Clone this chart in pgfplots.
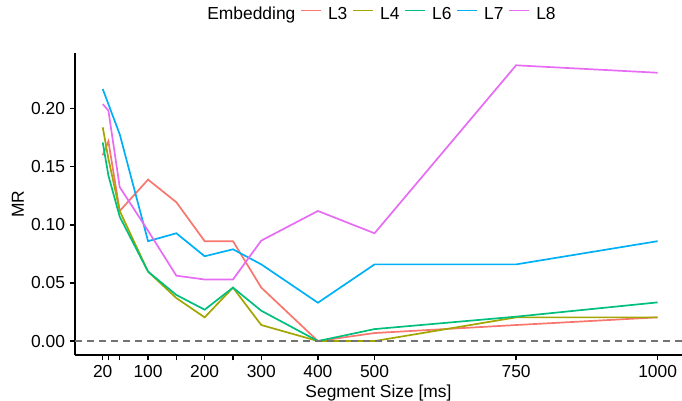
\documentclass[border=0pt]{standalone}
\usepackage{pgfplots}
\pgfplotsset{compat=1.18}
\usepackage{fontspec}
\setmainfont{Liberation Sans}

\definecolor{cLthree}{HTML}{F8766D}
\definecolor{cLfour}{HTML}{A3A500}
\definecolor{cLsix}{HTML}{00BF7D}
\definecolor{cLseven}{HTML}{00B0F6}
\definecolor{cLeight}{HTML}{E76BF3}

\newcommand{\fnt}{\fontsize{8.7}{10}\selectfont}

\begin{document}
\begin{tikzpicture}
\useasboundingbox (-37.5pt,-23pt) rectangle (303.5pt,177.5pt);
\begin{axis}[
    at={(0,0)}, anchor=south west,
    scale only axis, width=303.5pt, height=151pt,
    xmin=-29, xmax=1043, ymin=-0.012, ymax=0.248,
    axis lines*=left,
    axis line style={black, line width=0.6pt},
    tick align=outside, major tick length=2.7pt,
    tick style={black, line width=0.6pt},
    xtick={20,100,200,300,400,500,750,1000},
    extra x ticks={30,50,150,250}, extra x tick labels={},
    ytick={0,0.05,0.1,0.15,0.2},
    /pgf/number format/assume math mode=true,
    xticklabel style={/pgf/number format/1000 sep={}, yshift=1pt},
    yticklabel style={/pgf/number format/.cd, fixed, fixed zerofill, precision=2, /tikz/xshift=1.2pt},
    every tick label/.append style={font=\fnt, black},
    every axis x label/.style={at={(axis description cs:0.5,0)}, anchor=base, yshift=-21.1pt, font=\fnt},
    every axis y label/.style={at={(axis description cs:-0.094,0.5)}, rotate=90, anchor=center, font=\fnt},
    xlabel={Segment Size [ms]}, ylabel={MR},
    legend columns=-1,
    legend style={at={(0.5,1)}, anchor=center, yshift=19pt, draw=none, fill=none, font=\fnt,
        nodes={inner sep=0pt},
        /tikz/every even column/.append style={column sep=2.5pt},
        /tikz/every odd column/.append style={column sep=3pt}},
    legend image code/.code={\draw[#1] (0pt,2.2pt) -- (10pt,2.2pt);},
    every axis plot/.append style={line width=0.85pt},
]
\addlegendimage{empty legend}
\addlegendentry{Embedding\hspace{2pt}}

\addplot[cLthree] coordinates {(20,0.160) (30,0.172) (50,0.112) (100,0.139) (150,0.1195) (200,0.086) (250,0.086) (300,0.046) (400,0.0) (500,0.0069) (750,0.0138) (1000,0.0204)};
\addlegendentry{L3}
\addplot[cLfour] coordinates {(20,0.184) (30,0.157) (50,0.112) (100,0.0598) (150,0.037) (200,0.0204) (250,0.046) (300,0.0138) (400,0.0) (500,0.0) (750,0.0204) (1000,0.0204)};
\addlegendentry{L4}
\addplot[cLsix] coordinates {(20,0.171) (30,0.1425) (50,0.107) (100,0.0598) (150,0.0397) (200,0.027) (250,0.046) (300,0.0261) (400,0.0) (500,0.0103) (750,0.0210) (1000,0.0333)};
\addlegendentry{L6}
\addplot[cLseven] coordinates {(20,0.217) (30,0.204) (50,0.178) (100,0.086) (150,0.0928) (200,0.073) (250,0.079) (300,0.066) (400,0.033) (500,0.066) (750,0.066) (1000,0.086)};
\addlegendentry{L7}
\addplot[cLeight] coordinates {(20,0.204) (30,0.1985) (50,0.1325) (100,0.095) (150,0.0563) (200,0.053) (250,0.053) (300,0.0865) (400,0.112) (500,0.0928) (750,0.2374) (1000,0.231)};
\addlegendentry{L8}

\addplot[forget plot, black!55, line width=0.6pt, dash pattern=on 3.5pt off 2.5pt] coordinates {(-29,0) (1043,0)};
\end{axis}
\end{tikzpicture}
\end{document}
